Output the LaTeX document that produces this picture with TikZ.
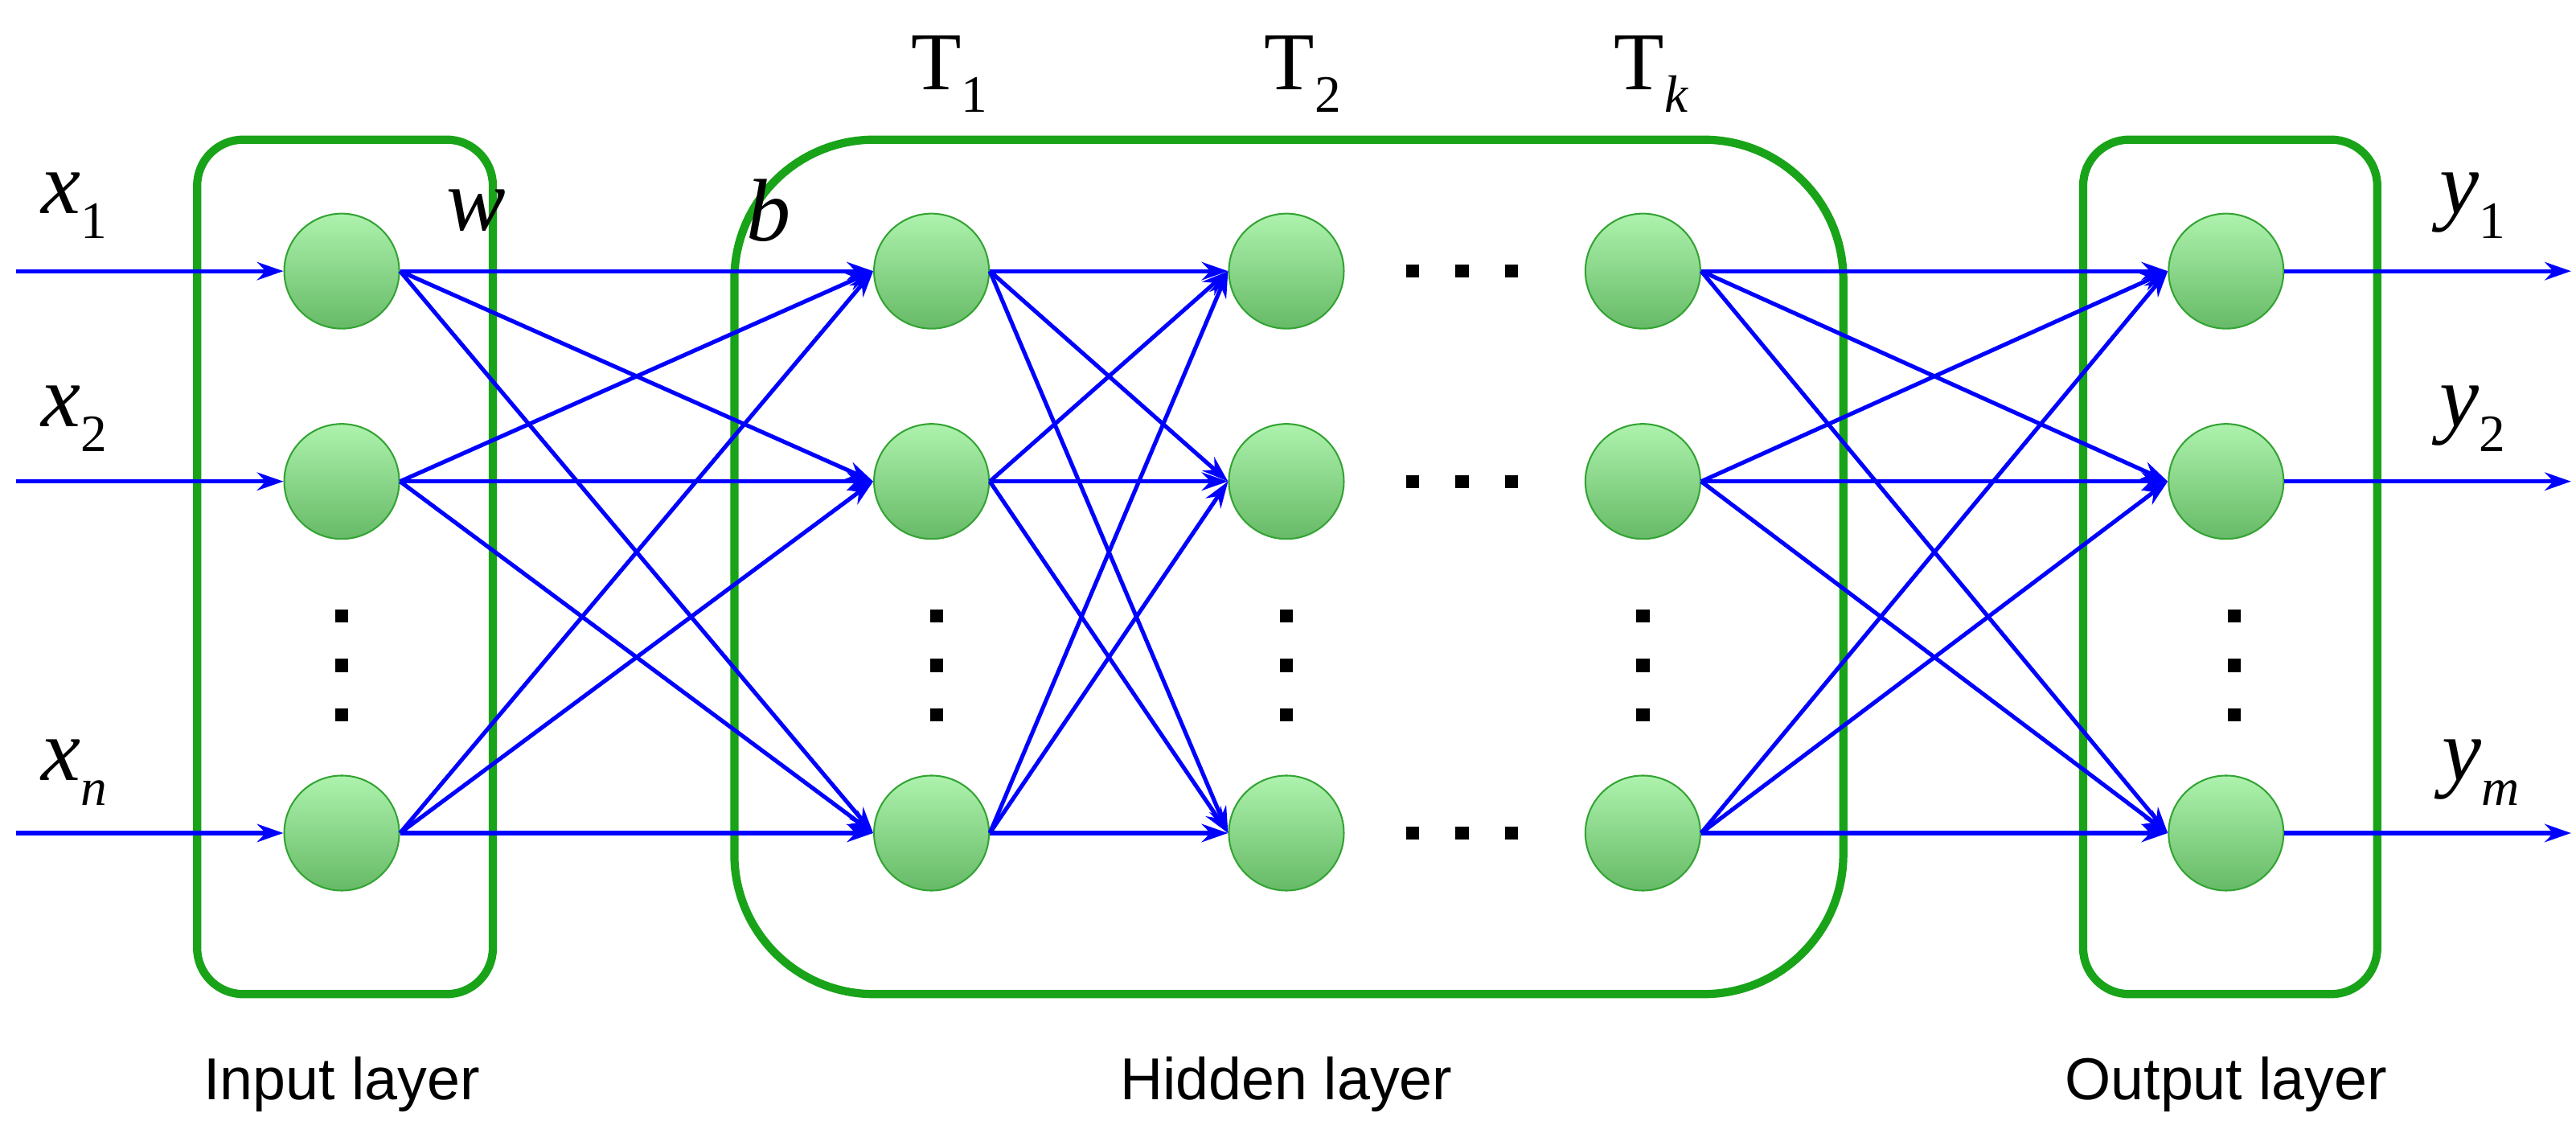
\documentclass[tikz,border=0pt]{standalone}
\usepackage{fontspec}
\setmainfont{Liberation Serif}
\newfontfamily\lsans{Liberation Sans}
\usetikzlibrary{arrows.meta}
\newcommand{\sbs}[1]{\raisebox{-0.28em}{\fontsize{32}{36}\selectfont #1}}
\begin{document}
\begin{tikzpicture}[x=1pt,y=-1pt,
  neu/.style={circle,minimum size=70pt,inner sep=0pt,draw=green!55!black!80,line width=1pt,top color=green!30!white!90!gray,bottom color=green!55!black!60!white},
  box/.style={draw=green!60!black!90,line width=5pt},
  con/.style={draw=blue,line width=2.5pt,-{Stealth[length=16pt,width=11pt]}},
  dot/.style={fill=black,minimum size=8pt,inner sep=0pt},
  lay/.style={font=\lsans\fontsize{36}{40}\selectfont},
  var/.style={font=\fontsize{54}{60}\selectfont\itshape},
  tt/.style={font=\fontsize{50}{56}\selectfont}]
\useasboundingbox (0,0) rectangle (1568,687);
\draw[box,rounded corners=28pt] (120,85) rectangle (300,605);
\draw[box,rounded corners=85pt] (447,85) rectangle (1122,605);
\draw[box,rounded corners=28pt] (1268,85) rectangle (1447,605);
\foreach \n/\x in {i/208,a/567,b/783,k/1000,o/1355}{
  \node[neu] (\n1) at (\x,165) {};
  \node[neu] (\n2) at (\x,293) {};
  \node[neu] (\n3) at (\x,507) {};
}
\foreach \x in {208,570,783,1000,1360}{
  \foreach \y in {375,405,435} \node[dot] at (\x,\y) {};
}
\foreach \r/\y in {1/165,2/293,3/507}{
  \foreach \x in {860,890,920} \node[dot] at (\x,\y) {};
}
\coordinate (s1) at (10,165); \coordinate (s2) at (10,293); \coordinate (s3) at (10,507);
\coordinate (e1) at (1565,165); \coordinate (e2) at (1565,293); \coordinate (e3) at (1565,507);
\foreach \i in {1,2,3}{
  \draw[con] (s\i) -- (i\i.west);
  \draw[con] (o\i.east) -- (e\i);
  \foreach \j in {1,2,3}{
    \draw[con] (i\i.east) -- (a\j.west);
    \draw[con] (a\i.east) -- (b\j.west);
    \draw[con] (k\i.east) -- (o\j.west);
  }
}
\node[var] at (45,125) {x\sbs{\upshape 1}};
\node[var] at (45,255) {x\sbs{\upshape 2}};
\node[var] at (45,470) {x\sbs{\itshape n}};
\node[var] at (290,128) {w};
\node[var] at (468,128) {b};
\node[var] at (1505,125) {y\sbs{\upshape 1}};
\node[var] at (1505,255) {y\sbs{\upshape 2}};
\node[var] at (1510,470) {y\sbs{\itshape m}};
\node[tt] at (578,45) {T\sbs{1}};
\node[tt] at (793,45) {T\sbs{2}};
\node[tt] at (1005,45) {T\sbs{\itshape k}};
\node[lay] at (208,660) {Input layer};
\node[lay] at (783,660) {Hidden layer};
\node[lay] at (1355,660) {Output layer};
\end{tikzpicture}
\end{document}
